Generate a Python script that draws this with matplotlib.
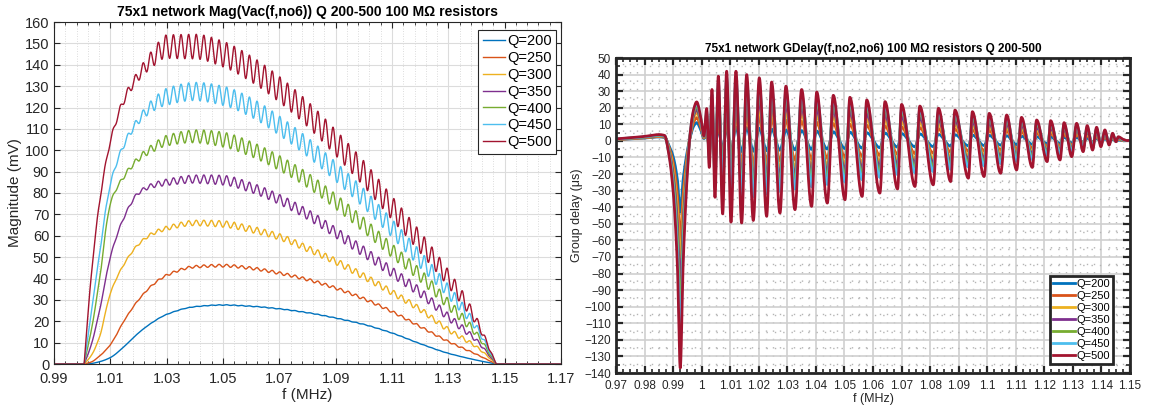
import numpy as np
import matplotlib
matplotlib.use("Agg")
import matplotlib.pyplot as plt
from matplotlib.ticker import MultipleLocator, FixedLocator, FuncFormatter

plt.rcParams['font.family'] = ['Liberation Sans', 'DejaVu Sans']

Q_LABELS = ["Q=200", "Q=250", "Q=300", "Q=350", "Q=400", "Q=450", "Q=500"]
COLORS = ["#0072BD", "#D95319", "#EDB120", "#7E2F8E", "#77AC30", "#4DBEEE", "#A2142F"]

# ---- left panel: |Vac| envelope (mV) read at these frequencies (MHz) ----
F_MAG = [1.0007, 1.003, 1.006, 1.010, 1.015, 1.020, 1.025, 1.030, 1.040, 1.050,
         1.060, 1.070, 1.080, 1.090, 1.100, 1.110, 1.120, 1.130, 1.140, 1.147]
MAG_200 = [0, 0.2, 1.0, 3.0, 8.3, 14.5, 19.5, 23.2, 26.8, 27.6, 27, 25.8, 24, 21.5, 18.5, 14.5, 9.5, 5.0, 1.8, 0]
MAG_250 = [0, 0.8, 3.5, 9, 20.5, 30, 37, 41.5, 45.5, 46, 44.8, 42.5, 39.5, 35.5, 30.5, 24.5, 17.5, 10.5, 4.5, 0]
MAG_300 = [0, 3.5, 12, 33, 47, 56, 61, 63.5, 66, 65.5, 63, 59.5, 54, 48, 41, 33.5, 25.5, 16, 8, 0]
MAG_350 = [0, 8, 24, 50, 69, 80, 83.5, 85, 86.5, 86, 82.5, 77, 70, 61.5, 52.5, 43, 33.5, 22, 11, 0]
MAG_400 = [0, 14, 38, 75, 88, 96, 101, 104.5, 106.5, 105, 100.5, 94, 86, 76, 65, 53, 41.5, 28, 14, 0]
MAG_450 = [0, 22, 50, 84, 103, 114, 121, 125, 127.5, 125.5, 120, 111.5, 101.5, 90, 77.5, 63.5, 49, 34, 17, 0]
MAG_500 = [0, 38, 74, 104, 124, 135, 143, 148.5, 148.5, 145, 138, 128.5, 117, 103.5, 89, 73, 57, 40, 20, 0]
MAG_MEAN = [MAG_200, MAG_250, MAG_300, MAG_350, MAG_400, MAG_450, MAG_500]

# ripple peak-to-trough (mV)
F_RIP = [1.0007, 1.010, 1.020, 1.030, 1.050, 1.100, 1.120, 1.135, 1.147]
RIP_200 = [0, 0, 0.1, 0.2, 0.3, 0.3, 0.2, 0.1, 0]
RIP_250 = [0, 0.2, 0.5, 1, 1.3, 1.3, 1, 0.7, 0]
RIP_300 = [0, 0.4, 1, 2, 3, 3, 2.5, 2, 0]
RIP_350 = [0, 0.7, 1.5, 3, 4.5, 5, 4.5, 3, 0]
RIP_400 = [0, 1, 2.5, 5, 7, 7, 6, 4.5, 0]
RIP_450 = [0, 1.5, 3.5, 8, 9, 9, 8, 5.5, 0]
RIP_500 = [0, 2, 5, 11, 12, 12, 10, 7, 0]
MAG_RIPPLE = [RIP_200, RIP_250, RIP_300, RIP_350, RIP_400, RIP_450, RIP_500]
RIPPLE_PERIOD = 0.0027

# ---- right panel: group delay (us) nodes of the Q=500 trace ----
# kind: p plateau, n notch, h hump, u oscillation peak, d oscillation dip, z tail
GD_F = [0.970, 0.975, 0.980, 0.985, 0.987,
        0.9885, 0.9900, 0.9915, 0.9925, 0.9935, 0.9948,
        0.9960, 0.9972, 0.99825, 0.9996, 1.0008,
        1.00175, 1.00267, 1.00361, 1.00466, 1.00583, 1.00735, 1.00875, 1.01027,
        1.0120, 1.0140, 1.01576, 1.01808, 1.02018, 1.02276, 1.0245, 1.02742,
        1.0295, 1.03268, 1.0350, 1.0385, 1.0403, 1.0440, 1.0461, 1.0502,
        1.0519, 1.0562, 1.0578, 1.0624, 1.0642, 1.0686, 1.0700, 1.0747,
        1.0764, 1.0811, 1.0829, 1.0872, 1.0887, 1.0934, 1.0948, 1.0989,
        1.1007, 1.1047, 1.1068, 1.1103, 1.1120, 1.1158, 1.1173, 1.1210,
        1.1222, 1.1255, 1.1269, 1.1296, 1.1313, 1.1336, 1.1350, 1.1369,
        1.1383, 1.1398, 1.1412, 1.1427, 1.1439, 1.1451, 1.1459, 1.1476, 1.1490, 1.150]
GD_RED = [1.2, 1.9, 2.7, 3.8, 3.3,
          -8, -30, -75, -137, -75, -25,
          5, 19, 23.5, 15, 3,
          19.5, -16, 31, -34, 39, -44, 42, -49,
          42, -49.5, 40, -48, 38, -45.5, 35.5, -43.5,
          33, -41.5, 31, -39.5, 29.5, -37.5, 27.5, -35.5,
          26.3, -33.5, 24.7, -31.5, 23.7, -29, 22, -27.5,
          21, -26.5, 19.7, -24.5, 18.6, -22.5, 17.6, -21.5,
          16.6, -19.5, 15.6, -17.5, 14.2, -16, 12.6, -12.5,
          12.2, -11.5, 11, -9.5, 10.6, -6.5, 9.2, -5.5,
          8.2, -3.5, 6.6, -2.5, 4.6, -0.5, 2.5, 0.9, 0.2, 0.3]
GD_KIND = ("ppppp" + "nnnnnn" + "hhhhh" + "ud" * 32 + "zz")

GD_PLATEAU = [2.4, 2.6, 2.9, 3.1, 3.3, 3.5, 3.8]
GD_NOTCH = [-43, -60, -75, -90, -105, -120, -137]
GD_HUMP = [11, 14, 17, 19, 21, 22.5, 23.5]
GD_PEAK = [0.20, 0.38, 0.53, 0.67, 0.82, 0.90, 1.0]
GD_DIP = [0.13, 0.28, 0.40, 0.50, 0.60, 0.70, 1.0]


def pchip(x, y, xn):
    x = np.asarray(x, float)
    y = np.asarray(y, float)
    h = np.diff(x)
    d = np.diff(y) / h
    m = np.zeros_like(y)
    for k in range(1, len(x) - 1):
        if d[k - 1] * d[k] > 0:
            w1 = 2 * h[k] + h[k - 1]
            w2 = h[k] + 2 * h[k - 1]
            m[k] = (w1 + w2) / (w1 / d[k - 1] + w2 / d[k])
    m[0], m[-1] = d[0], d[-1]
    i = np.clip(np.searchsorted(x, xn) - 1, 0, len(h) - 1)
    t = (xn - x[i]) / h[i]
    return ((2 * t**3 - 3 * t**2 + 1) * y[i] + (t**3 - 2 * t**2 + t) * h[i] * m[i]
            + (-2 * t**3 + 3 * t**2) * y[i + 1] + (t**3 - t**2) * h[i] * m[i + 1])


fig = plt.figure(figsize=(11.49, 4.09), dpi=100)
W, H = 1149, 409
ax1 = fig.add_axes([54 / W, 1 - 364 / H, (561 - 54) / W, (364 - 22) / H])
ax2 = fig.add_axes([616 / W, 1 - 373 / H, (1130 - 616) / W, (373 - 58) / H])

# ---------------- left panel ----------------
f = np.linspace(0.99, 1.17, 8000)
inside = (f > F_MAG[0]) & (f < F_MAG[-1])
for k in range(7):
    mean = np.where(inside, pchip(F_MAG, MAG_MEAN[k], f), 0.0)
    ripple = np.interp(f, F_RIP, MAG_RIPPLE[k]) / 2
    v = mean + ripple * np.cos(2 * np.pi * (f - 1.0) / RIPPLE_PERIOD)
    v = np.where(inside, np.maximum(v, 0), 0.0)
    ax1.plot(f, v, color=COLORS[k], lw=1.0, label=Q_LABELS[k])

ax1.set_xlim(0.99, 1.17)
ax1.set_ylim(0, 160)
ax1.xaxis.set_major_locator(FixedLocator(np.round(np.arange(0.99, 1.1701, 0.02), 2)))
ax1.xaxis.set_minor_locator(FixedLocator(np.arange(0.99, 1.1701, 0.004)))
ax1.xaxis.set_major_formatter(FuncFormatter(lambda x, p: "%.2f" % x))
ax1.yaxis.set_major_locator(MultipleLocator(10))
ax1.grid(True, which='major', color='#dcdcdc', lw=0.8)
ax1.grid(True, which='minor', axis='x', color='#d0d0d0', lw=0.6, ls=(0, (1, 2)))
ax1.set_axisbelow(True)
ax1.tick_params(which='both', direction='in', top=True, right=True, labelsize=10.5, colors='#262626')
ax1.tick_params(which='major', length=4, width=0.8)
ax1.tick_params(which='minor', length=2, width=0.6)
ax1.tick_params(axis='x', pad=6)
for s in ax1.spines.values():
    s.set_color('#262626')
    s.set_linewidth(0.8)
ax1.set_xlabel("f (MHz)", fontsize=11, color='#262626', labelpad=1)
ax1.set_ylabel("Magnitude (mV)", fontsize=11, color='#262626', labelpad=2)
ax1.set_title("75x1 network Mag(Vac(f,no6)) Q 200-500 100 M\u03a9 resistors",
              fontsize=10, fontweight='bold', pad=4)
leg1 = ax1.legend(loc='upper right', bbox_to_anchor=(0.991, 0.978), fontsize=10.5,
                  handlelength=1.5, handletextpad=0.2, labelspacing=0.2,
                  borderpad=0.3, borderaxespad=0, fancybox=False, framealpha=1)
leg1.get_frame().set_edgecolor('#262626')
leg1.get_frame().set_linewidth(0.8)

# ---------------- right panel ----------------
g = np.linspace(0.97, 1.15, 9000)
ref = {'p': GD_PLATEAU, 'n': GD_NOTCH, 'h': GD_HUMP}
for k in range(7):
    vals = []
    for v, kind in zip(GD_RED, GD_KIND):
        if kind in ref:
            vals.append(v * ref[kind][k] / ref[kind][-1])
        elif kind == 'u':
            vals.append(v * GD_PEAK[k])
        elif kind == 'd':
            vals.append(v * GD_DIP[k])
        else:
            vals.append(v)
    ax2.plot(g, pchip(GD_F, vals, g), color=COLORS[k], lw=2.0, label=Q_LABELS[k])

ax2.set_xlim(0.97, 1.15)
ax2.set_ylim(-140, 50)
ax2.xaxis.set_major_locator(MultipleLocator(0.01))
ax2.xaxis.set_minor_locator(MultipleLocator(0.0025))
ax2.xaxis.set_major_formatter(FuncFormatter(lambda x, p: "%g" % round(x, 2)))
ax2.yaxis.set_major_locator(MultipleLocator(10))
ax2.yaxis.set_minor_locator(MultipleLocator(5))
ax2.grid(True, which='major', color='#cfcfcf', lw=1.2)
ax2.grid(True, which='minor', color='#b5b5b5', lw=1.0, ls=(0, (1, 5)))
ax2.set_axisbelow(True)
ax2.tick_params(which='both', direction='in', top=True, right=True, labelsize=8.5, colors='#262626')
ax2.tick_params(which='major', length=5, width=1.6)
ax2.tick_params(which='minor', length=3, width=1.2)
ax2.tick_params(axis='x', pad=5)
for s in ax2.spines.values():
    s.set_color('#262626')
    s.set_linewidth(2.0)
ax2.set_xlabel("f (MHz)", fontsize=9, color='#262626', labelpad=1)
ax2.set_ylabel("Group delay (\u03bcs)", fontsize=9, color='#262626', labelpad=1)
ax2.set_title("75x1 network GDelay(f,no2,no6) 100 M\u03a9 resistors Q 200-500",
              fontsize=8.5, fontweight='bold', pad=4)
leg2 = ax2.legend(loc='lower right', bbox_to_anchor=(0.966, 0.03), fontsize=8,
                  handlelength=2.0, handletextpad=0.1, labelspacing=0.18,
                  borderpad=0.25, borderaxespad=0, fancybox=False, framealpha=1)
leg2.get_frame().set_edgecolor('#262626')
leg2.get_frame().set_linewidth(2.0)

fig.savefig("out.png", dpi=100)
